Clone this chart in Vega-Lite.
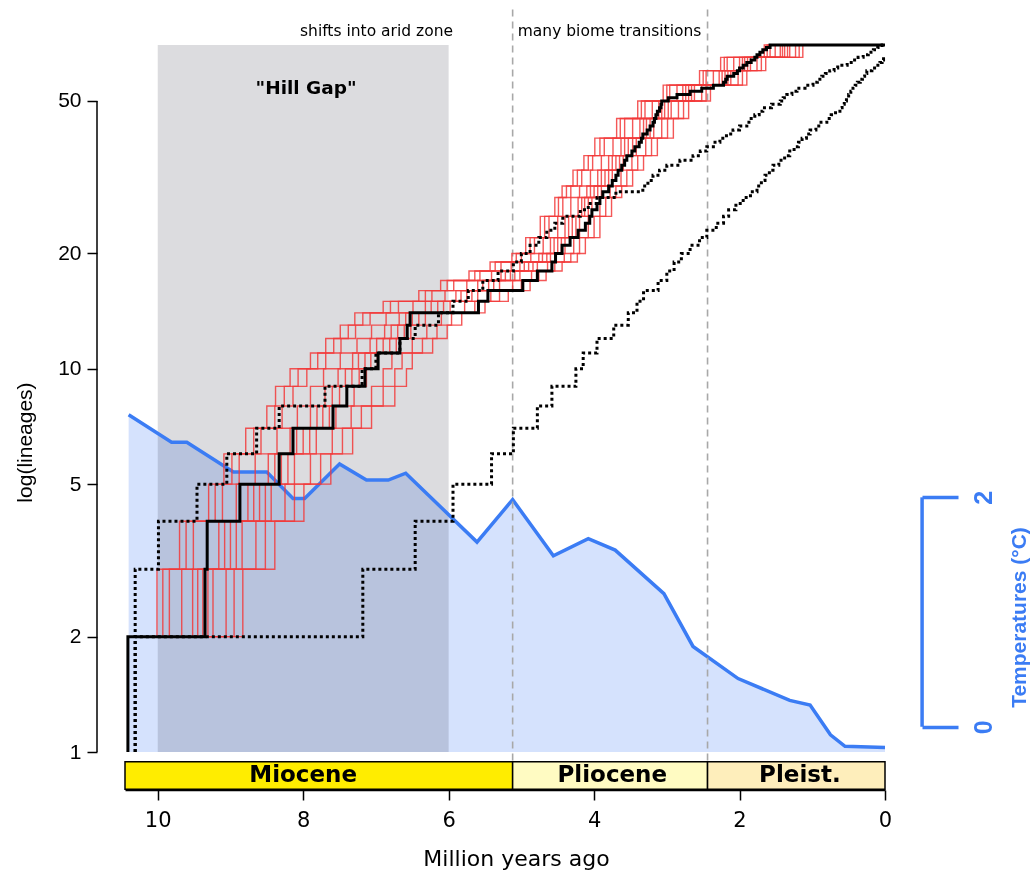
{
"$schema": "https://vega.github.io/schema/vega-lite/v6.json",
"width": 760, "height": 707, "autosize": "none",
"padding": {"left": 125, "top": 45, "right": 149, "bottom": 119},
"background": "white",
"config": {"view": {"stroke": null}, "axis": {"grid": false}},
"datasets": {
"gap": [{"t": 10, "t2": 6}],
"temp": [{"t":10.40,"T":2.72},{"t":9.81,"T":2.48},{"t":9.60,"T":2.48},{"t":8.96,"T":2.22},{"t":8.50,"T":2.22},{"t":8.14,"T":1.99},{"t":7.98,"T":1.99},{"t":7.50,"T":2.29},{"t":7.13,"T":2.15},{"t":6.83,"T":2.15},{"t":6.59,"T":2.21},{"t":5.61,"T":1.61},{"t":5.12,"T":1.98},{"t":4.56,"T":1.49},{"t":4.08,"T":1.64},{"t":3.71,"T":1.54},{"t":3.04,"T":1.16},{"t":2.64,"T":0.70},{"t":2.02,"T":0.42},{"t":1.31,"T":0.23},{"t":1.03,"T":0.19},{"t":0.75,"T":-0.07},{"t":0.55,"T":-0.17},{"t":0,"T":-0.18}],
"bracket": [{"t": -0.51, "T": 0, "T2": 2}],
"yline": [{"t": 10.835, "n": 1, "n2": 50}],
"dash": [{"t": 5.12, "n": 0.95, "n2": 87}, {"t": 2.44, "n": 0.95, "n2": 87}],
"epochs": [{"t":10.45,"t2":5.12,"n":0.943,"n2":0.8,"e":"Miocene"},{"t":5.12,"t2":2.44,"n":0.943,"n2":0.8,"e":"Pliocene"},{"t":2.44,"t2":0,"n":0.943,"n2":0.8,"e":"Pleist."}],
"epochLabels": [{"t":8.0,"n":0.871,"e":"Miocene"},{"t":3.75,"n":0.871,"e":"Pliocene"},{"t":1.17,"n":0.871,"e":"Pleist."}],
"black": [{"t":10.41,"n":1},{"t":10.41,"n":2},{"t":9.35,"n":3},{"t":9.32,"n":4},{"t":8.87,"n":5},{"t":8.33,"n":6},{"t":8.14,"n":7},{"t":7.59,"n":8},{"t":7.40,"n":9},{"t":7.15,"n":10},{"t":6.97,"n":11},{"t":6.67,"n":12},{"t":6.57,"n":13},{"t":6.53,"n":14},{"t":5.59,"n":15},{"t":5.46,"n":16},{"t":4.98,"n":17},{"t":4.78,"n":18},{"t":4.58,"n":19},{"t":4.53,"n":20},{"t":4.44,"n":21},{"t":4.33,"n":22},{"t":4.22,"n":23},{"t":4.12,"n":24},{"t":4.06,"n":25},{"t":4.03,"n":26},{"t":3.96,"n":27},{"t":3.92,"n":28},{"t":3.88,"n":29},{"t":3.80,"n":30},{"t":3.75,"n":31},{"t":3.70,"n":32},{"t":3.67,"n":33},{"t":3.62,"n":34},{"t":3.58,"n":35},{"t":3.55,"n":36},{"t":3.48,"n":37},{"t":3.44,"n":38},{"t":3.38,"n":39},{"t":3.35,"n":40},{"t":3.33,"n":41},{"t":3.27,"n":42},{"t":3.23,"n":43},{"t":3.19,"n":44},{"t":3.17,"n":45},{"t":3.15,"n":46},{"t":3.13,"n":47},{"t":3.10,"n":48},{"t":3.08,"n":49},{"t":3.07,"n":50},{"t":2.98,"n":51},{"t":2.86,"n":52},{"t":2.68,"n":53},{"t":2.52,"n":54},{"t":2.36,"n":55},{"t":2.22,"n":56},{"t":2.19,"n":57},{"t":2.17,"n":58},{"t":2.08,"n":59},{"t":2.03,"n":60},{"t":2.00,"n":61},{"t":1.95,"n":62},{"t":1.90,"n":63},{"t":1.84,"n":64},{"t":1.79,"n":65},{"t":1.76,"n":66},{"t":1.72,"n":67},{"t":1.68,"n":68},{"t":1.63,"n":69},{"t":1.58,"n":70},{"t":0,"n":70}],
"dotted": [
{"s":"hi","t":10.31,"n":1},{"s":"hi","t":10.31,"n":3},{"s":"hi","t":9.99,"n":4},{"s":"hi","t":9.46,"n":5},{"s":"hi","t":9.05,"n":6},{"s":"hi","t":8.64,"n":7},{"s":"hi","t":8.33,"n":8},{"s":"hi","t":7.70,"n":9},{"s":"hi","t":7.19,"n":10},{"s":"hi","t":7.00,"n":11},{"s":"hi","t":6.67,"n":12},{"s":"hi","t":6.46,"n":13},{"s":"hi","t":6.14,"n":14},{"s":"hi","t":5.94,"n":15},{"s":"hi","t":5.73,"n":16},{"s":"hi","t":5.53,"n":17},{"s":"hi","t":5.32,"n":18},{"s":"hi","t":5.11,"n":19},{"s":"hi","t":5.00,"n":20},{"s":"hi","t":4.88,"n":21},{"s":"hi","t":4.76,"n":22},{"s":"hi","t":4.65,"n":23},{"s":"hi","t":4.54,"n":24},{"s":"hi","t":4.43,"n":25},{"s":"hi","t":4.19,"n":26},{"s":"hi","t":4.08,"n":27},{"s":"hi","t":3.96,"n":28},{"s":"hi","t":3.70,"n":29},{"s":"hi","t":3.33,"n":30},{"s":"hi","t":3.26,"n":31},{"s":"hi","t":3.19,"n":32},{"s":"hi","t":3.10,"n":33},{"s":"hi","t":3.00,"n":34},{"s":"hi","t":2.82,"n":35},{"s":"hi","t":2.64,"n":36},{"s":"hi","t":2.54,"n":37},{"s":"hi","t":2.45,"n":38},{"s":"hi","t":2.36,"n":39},{"s":"hi","t":2.27,"n":40},{"s":"hi","t":2.18,"n":41},{"s":"hi","t":2.09,"n":42},{"s":"hi","t":2.00,"n":43},{"s":"hi","t":1.90,"n":44},{"s":"hi","t":1.84,"n":45},{"s":"hi","t":1.79,"n":46},{"s":"hi","t":1.73,"n":47},{"s":"hi","t":1.68,"n":48},{"s":"hi","t":1.56,"n":49},{"s":"hi","t":1.44,"n":50},{"s":"hi","t":1.40,"n":51},{"s":"hi","t":1.35,"n":52},{"s":"hi","t":1.28,"n":53},{"s":"hi","t":1.21,"n":54},{"s":"hi","t":1.10,"n":55},{"s":"hi","t":0.99,"n":56},{"s":"hi","t":0.93,"n":57},{"s":"hi","t":0.87,"n":58},{"s":"hi","t":0.82,"n":59},{"s":"hi","t":0.76,"n":60},{"s":"hi","t":0.70,"n":61},{"s":"hi","t":0.65,"n":62},{"s":"hi","t":0.52,"n":63},{"s":"hi","t":0.44,"n":64},{"s":"hi","t":0.37,"n":65},{"s":"hi","t":0.30,"n":66},{"s":"hi","t":0.23,"n":67},{"s":"hi","t":0.16,"n":68},{"s":"hi","t":0.10,"n":69},{"s":"hi","t":0.04,"n":70},{"s":"hi","t":0,"n":70},
{"s":"lo","t":10.31,"n":1},{"s":"lo","t":10.31,"n":2},{"s":"lo","t":7.18,"n":3},{"s":"lo","t":6.46,"n":4},{"s":"lo","t":5.94,"n":5},{"s":"lo","t":5.41,"n":6},{"s":"lo","t":5.11,"n":7},{"s":"lo","t":4.78,"n":8},{"s":"lo","t":4.58,"n":9},{"s":"lo","t":4.25,"n":10},{"s":"lo","t":4.15,"n":11},{"s":"lo","t":3.96,"n":12},{"s":"lo","t":3.73,"n":13},{"s":"lo","t":3.53,"n":14},{"s":"lo","t":3.41,"n":15},{"s":"lo","t":3.32,"n":16},{"s":"lo","t":3.12,"n":17},{"s":"lo","t":3.00,"n":18},{"s":"lo","t":2.90,"n":19},{"s":"lo","t":2.80,"n":20},{"s":"lo","t":2.68,"n":21},{"s":"lo","t":2.55,"n":22},{"s":"lo","t":2.45,"n":23},{"s":"lo","t":2.32,"n":24},{"s":"lo","t":2.22,"n":25},{"s":"lo","t":2.15,"n":26},{"s":"lo","t":2.05,"n":27},{"s":"lo","t":1.95,"n":28},{"s":"lo","t":1.85,"n":29},{"s":"lo","t":1.76,"n":30},{"s":"lo","t":1.70,"n":31},{"s":"lo","t":1.65,"n":32},{"s":"lo","t":1.59,"n":33},{"s":"lo","t":1.54,"n":34},{"s":"lo","t":1.46,"n":35},{"s":"lo","t":1.38,"n":36},{"s":"lo","t":1.31,"n":37},{"s":"lo","t":1.25,"n":38},{"s":"lo","t":1.19,"n":39},{"s":"lo","t":1.14,"n":40},{"s":"lo","t":1.08,"n":41},{"s":"lo","t":1.03,"n":42},{"s":"lo","t":0.95,"n":43},{"s":"lo","t":0.88,"n":44},{"s":"lo","t":0.80,"n":45},{"s":"lo","t":0.74,"n":46},{"s":"lo","t":0.68,"n":47},{"s":"lo","t":0.62,"n":48},{"s":"lo","t":0.59,"n":49},{"s":"lo","t":0.56,"n":50},{"s":"lo","t":0.53,"n":51},{"s":"lo","t":0.50,"n":52},{"s":"lo","t":0.47,"n":53},{"s":"lo","t":0.44,"n":54},{"s":"lo","t":0.41,"n":55},{"s":"lo","t":0.38,"n":56},{"s":"lo","t":0.34,"n":57},{"s":"lo","t":0.31,"n":58},{"s":"lo","t":0.28,"n":59},{"s":"lo","t":0.25,"n":60},{"s":"lo","t":0.18,"n":61},{"s":"lo","t":0.12,"n":62},{"s":"lo","t":0.07,"n":63},{"s":"lo","t":0.04,"n":64},{"s":"lo","t":0.02,"n":65},{"s":"lo","t":0,"n":65}],
"red": [
{"s":1,"t":10.2,"n":2},{"s":1,"t":10.01,"n":3},{"s":1,"t":9.70,"n":4},{"s":1,"t":9.30,"n":5},{"s":1,"t":9.09,"n":6},{"s":1,"t":8.79,"n":7},{"s":1,"t":8.50,"n":8},{"s":1,"t":8.38,"n":9},{"s":1,"t":8.18,"n":10},{"s":1,"t":7.90,"n":11},{"s":1,"t":7.69,"n":12},{"s":1,"t":7.49,"n":13},{"s":1,"t":7.29,"n":14},{"s":1,"t":6.90,"n":15},{"s":1,"t":6.41,"n":16},{"s":1,"t":6.11,"n":17},{"s":1,"t":5.72,"n":18},{"s":1,"t":5.43,"n":19},{"s":1,"t":5.13,"n":20},{"s":1,"t":4.94,"n":22},{"s":1,"t":4.74,"n":25},{"s":1,"t":4.54,"n":28},{"s":1,"t":4.44,"n":30},{"s":1,"t":4.29,"n":33},{"s":1,"t":4.14,"n":36},{"s":1,"t":3.99,"n":40},{"s":1,"t":3.69,"n":45},{"s":1,"t":3.40,"n":50},{"s":1,"t":3.05,"n":55},{"s":1,"t":2.55,"n":60},{"s":1,"t":2.26,"n":65},{"s":1,"t":1.66,"n":70},{"s":1,"t":0,"n":70},
{"s":2,"t":10.2,"n":2},{"s":2,"t":9.84,"n":3},{"s":2,"t":9.51,"n":4},{"s":2,"t":9.11,"n":5},{"s":2,"t":8.88,"n":6},{"s":2,"t":8.58,"n":7},{"s":2,"t":8.29,"n":8},{"s":2,"t":8.14,"n":9},{"s":2,"t":7.95,"n":10},{"s":2,"t":7.69,"n":11},{"s":2,"t":7.48,"n":12},{"s":2,"t":7.28,"n":13},{"s":2,"t":7.08,"n":14},{"s":2,"t":6.69,"n":15},{"s":2,"t":6.23,"n":16},{"s":2,"t":5.93,"n":17},{"s":2,"t":5.57,"n":18},{"s":2,"t":5.28,"n":19},{"s":2,"t":5.00,"n":20},{"s":2,"t":4.82,"n":22},{"s":2,"t":4.62,"n":25},{"s":2,"t":4.43,"n":28},{"s":2,"t":4.32,"n":30},{"s":2,"t":4.17,"n":33},{"s":2,"t":4.02,"n":36},{"s":2,"t":3.86,"n":40},{"s":2,"t":3.58,"n":45},{"s":2,"t":3.30,"n":50},{"s":2,"t":2.96,"n":55},{"s":2,"t":2.46,"n":60},{"s":2,"t":2.17,"n":65},{"s":2,"t":1.58,"n":70},{"s":2,"t":0,"n":70},
{"s":3,"t":10.2,"n":2},{"s":3,"t":9.67,"n":3},{"s":3,"t":9.32,"n":4},{"s":3,"t":8.92,"n":5},{"s":3,"t":8.66,"n":6},{"s":3,"t":8.36,"n":7},{"s":3,"t":8.08,"n":8},{"s":3,"t":7.90,"n":9},{"s":3,"t":7.72,"n":10},{"s":3,"t":7.49,"n":11},{"s":3,"t":7.26,"n":12},{"s":3,"t":7.06,"n":13},{"s":3,"t":6.86,"n":14},{"s":3,"t":6.49,"n":15},{"s":3,"t":6.05,"n":16},{"s":3,"t":5.75,"n":17},{"s":3,"t":5.41,"n":18},{"s":3,"t":5.14,"n":19},{"s":3,"t":4.87,"n":20},{"s":3,"t":4.70,"n":22},{"s":3,"t":4.50,"n":25},{"s":3,"t":4.32,"n":28},{"s":3,"t":4.20,"n":30},{"s":3,"t":4.05,"n":33},{"s":3,"t":3.90,"n":36},{"s":3,"t":3.74,"n":40},{"s":3,"t":3.47,"n":45},{"s":3,"t":3.20,"n":50},{"s":3,"t":2.86,"n":55},{"s":3,"t":2.36,"n":60},{"s":3,"t":2.08,"n":65},{"s":3,"t":1.51,"n":70},{"s":3,"t":0,"n":70},
{"s":4,"t":10.2,"n":2},{"s":4,"t":9.52,"n":3},{"s":4,"t":9.16,"n":4},{"s":4,"t":8.76,"n":5},{"s":4,"t":8.48,"n":6},{"s":4,"t":8.18,"n":7},{"s":4,"t":7.90,"n":8},{"s":4,"t":7.70,"n":9},{"s":4,"t":7.52,"n":10},{"s":4,"t":7.32,"n":11},{"s":4,"t":7.08,"n":12},{"s":4,"t":6.88,"n":13},{"s":4,"t":6.68,"n":14},{"s":4,"t":6.32,"n":15},{"s":4,"t":5.90,"n":16},{"s":4,"t":5.60,"n":17},{"s":4,"t":5.28,"n":18},{"s":4,"t":5.02,"n":19},{"s":4,"t":4.76,"n":20},{"s":4,"t":4.60,"n":22},{"s":4,"t":4.40,"n":25},{"s":4,"t":4.22,"n":28},{"s":4,"t":4.10,"n":30},{"s":4,"t":3.95,"n":33},{"s":4,"t":3.80,"n":36},{"s":4,"t":3.63,"n":40},{"s":4,"t":3.37,"n":45},{"s":4,"t":3.11,"n":50},{"s":4,"t":2.78,"n":55},{"s":4,"t":2.28,"n":60},{"s":4,"t":2.00,"n":65},{"s":4,"t":1.44,"n":70},{"s":4,"t":0,"n":70},
{"s":5,"t":10.2,"n":2},{"s":5,"t":9.38,"n":3},{"s":5,"t":9.00,"n":4},{"s":5,"t":8.60,"n":5},{"s":5,"t":8.30,"n":6},{"s":5,"t":8.00,"n":7},{"s":5,"t":7.73,"n":8},{"s":5,"t":7.50,"n":9},{"s":5,"t":7.33,"n":10},{"s":5,"t":7.15,"n":11},{"s":5,"t":6.90,"n":12},{"s":5,"t":6.70,"n":13},{"s":5,"t":6.50,"n":14},{"s":5,"t":6.15,"n":15},{"s":5,"t":5.75,"n":16},{"s":5,"t":5.45,"n":17},{"s":5,"t":5.15,"n":18},{"s":5,"t":4.90,"n":19},{"s":5,"t":4.65,"n":20},{"s":5,"t":4.50,"n":22},{"s":5,"t":4.30,"n":25},{"s":5,"t":4.13,"n":28},{"s":5,"t":4.00,"n":30},{"s":5,"t":3.85,"n":33},{"s":5,"t":3.70,"n":36},{"s":5,"t":3.53,"n":40},{"s":5,"t":3.28,"n":45},{"s":5,"t":3.03,"n":50},{"s":5,"t":2.70,"n":55},{"s":5,"t":2.20,"n":60},{"s":5,"t":1.93,"n":65},{"s":5,"t":1.38,"n":70},{"s":5,"t":0,"n":70},
{"s":6,"t":10.2,"n":2},{"s":6,"t":9.24,"n":3},{"s":6,"t":8.84,"n":4},{"s":6,"t":8.44,"n":5},{"s":6,"t":8.12,"n":6},{"s":6,"t":7.82,"n":7},{"s":6,"t":7.55,"n":8},{"s":6,"t":7.30,"n":9},{"s":6,"t":7.13,"n":10},{"s":6,"t":6.98,"n":11},{"s":6,"t":6.72,"n":12},{"s":6,"t":6.52,"n":13},{"s":6,"t":6.32,"n":14},{"s":6,"t":5.98,"n":15},{"s":6,"t":5.60,"n":16},{"s":6,"t":5.30,"n":17},{"s":6,"t":5.02,"n":18},{"s":6,"t":4.78,"n":19},{"s":6,"t":4.54,"n":20},{"s":6,"t":4.40,"n":22},{"s":6,"t":4.20,"n":25},{"s":6,"t":4.03,"n":28},{"s":6,"t":3.90,"n":30},{"s":6,"t":3.75,"n":33},{"s":6,"t":3.60,"n":36},{"s":6,"t":3.42,"n":40},{"s":6,"t":3.18,"n":45},{"s":6,"t":2.94,"n":50},{"s":6,"t":2.62,"n":55},{"s":6,"t":2.12,"n":60},{"s":6,"t":1.85,"n":65},{"s":6,"t":1.31,"n":70},{"s":6,"t":0,"n":70},
{"s":7,"t":10.2,"n":2},{"s":7,"t":9.06,"n":3},{"s":7,"t":8.65,"n":4},{"s":7,"t":8.25,"n":5},{"s":7,"t":7.90,"n":6},{"s":7,"t":7.60,"n":7},{"s":7,"t":7.34,"n":8},{"s":7,"t":7.06,"n":9},{"s":7,"t":6.90,"n":10},{"s":7,"t":6.78,"n":11},{"s":7,"t":6.50,"n":12},{"s":7,"t":6.30,"n":13},{"s":7,"t":6.10,"n":14},{"s":7,"t":5.78,"n":15},{"s":7,"t":5.42,"n":16},{"s":7,"t":5.12,"n":17},{"s":7,"t":4.86,"n":18},{"s":7,"t":4.64,"n":19},{"s":7,"t":4.41,"n":20},{"s":7,"t":4.28,"n":22},{"s":7,"t":4.08,"n":25},{"s":7,"t":3.92,"n":28},{"s":7,"t":3.78,"n":30},{"s":7,"t":3.63,"n":33},{"s":7,"t":3.48,"n":36},{"s":7,"t":3.29,"n":40},{"s":7,"t":3.07,"n":45},{"s":7,"t":2.84,"n":50},{"s":7,"t":2.52,"n":55},{"s":7,"t":2.02,"n":60},{"s":7,"t":1.76,"n":65},{"s":7,"t":1.23,"n":70},{"s":7,"t":0,"n":70},
{"s":8,"t":10.2,"n":2},{"s":8,"t":8.83,"n":3},{"s":8,"t":8.39,"n":4},{"s":8,"t":7.99,"n":5},{"s":8,"t":7.62,"n":6},{"s":8,"t":7.32,"n":7},{"s":8,"t":7.06,"n":8},{"s":8,"t":6.74,"n":9},{"s":8,"t":6.58,"n":10},{"s":8,"t":6.50,"n":11},{"s":8,"t":6.22,"n":12},{"s":8,"t":6.02,"n":13},{"s":8,"t":5.82,"n":14},{"s":8,"t":5.50,"n":15},{"s":8,"t":5.18,"n":16},{"s":8,"t":4.88,"n":17},{"s":8,"t":4.66,"n":18},{"s":8,"t":4.44,"n":19},{"s":8,"t":4.23,"n":20},{"s":8,"t":4.12,"n":22},{"s":8,"t":3.92,"n":25},{"s":8,"t":3.76,"n":28},{"s":8,"t":3.62,"n":30},{"s":8,"t":3.47,"n":33},{"s":8,"t":3.32,"n":36},{"s":8,"t":3.13,"n":40},{"s":8,"t":2.91,"n":45},{"s":8,"t":2.70,"n":50},{"s":8,"t":2.40,"n":55},{"s":8,"t":1.90,"n":60},{"s":8,"t":1.64,"n":65},{"s":8,"t":1.13,"n":70},{"s":8,"t":0,"n":70},
{"s":9,"t":10.2,"n":2},{"s":9,"t":9.93,"n":3},{"s":9,"t":9.61,"n":4},{"s":9,"t":9.21,"n":5},{"s":9,"t":8.98,"n":6},{"s":9,"t":8.68,"n":7},{"s":9,"t":8.39,"n":8},{"s":9,"t":8.26,"n":9},{"s":9,"t":8.07,"n":10},{"s":9,"t":7.80,"n":11},{"s":9,"t":7.58,"n":12},{"s":9,"t":7.38,"n":13},{"s":9,"t":7.18,"n":14},{"s":9,"t":6.80,"n":15},{"s":9,"t":6.32,"n":16},{"s":9,"t":6.02,"n":17},{"s":9,"t":5.64,"n":18},{"s":9,"t":5.36,"n":19},{"s":9,"t":5.07,"n":20},{"s":9,"t":4.88,"n":22},{"s":9,"t":4.68,"n":25},{"s":9,"t":4.49,"n":28},{"s":9,"t":4.38,"n":30},{"s":9,"t":4.23,"n":33},{"s":9,"t":4.08,"n":36},{"s":9,"t":3.92,"n":40},{"s":9,"t":3.64,"n":45},{"s":9,"t":3.35,"n":50},{"s":9,"t":3.00,"n":55},{"s":9,"t":2.50,"n":60},{"s":9,"t":2.21,"n":65},{"s":9,"t":1.62,"n":70},{"s":9,"t":0,"n":70},
{"s":10,"t":10.2,"n":2},{"s":10,"t":9.45,"n":3},{"s":10,"t":9.08,"n":4},{"s":10,"t":8.68,"n":5},{"s":10,"t":8.39,"n":6},{"s":10,"t":8.09,"n":7},{"s":10,"t":7.81,"n":8},{"s":10,"t":7.60,"n":9},{"s":10,"t":7.42,"n":10},{"s":10,"t":7.24,"n":11},{"s":10,"t":6.99,"n":12},{"s":10,"t":6.79,"n":13},{"s":10,"t":6.59,"n":14},{"s":10,"t":6.24,"n":15},{"s":10,"t":5.83,"n":16},{"s":10,"t":5.53,"n":17},{"s":10,"t":5.22,"n":18},{"s":10,"t":4.96,"n":19},{"s":10,"t":4.71,"n":20},{"s":10,"t":4.55,"n":22},{"s":10,"t":4.35,"n":25},{"s":10,"t":4.17,"n":28},{"s":10,"t":4.05,"n":30},{"s":10,"t":3.90,"n":33},{"s":10,"t":3.75,"n":36},{"s":10,"t":3.58,"n":40},{"s":10,"t":3.32,"n":45},{"s":10,"t":3.07,"n":50},{"s":10,"t":2.74,"n":55},{"s":10,"t":2.24,"n":60},{"s":10,"t":1.96,"n":65},{"s":10,"t":1.41,"n":70},{"s":10,"t":0,"n":70},
{"s":11,"t":10.2,"n":2},{"s":11,"t":9.31,"n":3},{"s":11,"t":8.92,"n":4},{"s":11,"t":8.52,"n":5},{"s":11,"t":8.21,"n":6},{"s":11,"t":7.91,"n":7},{"s":11,"t":7.64,"n":8},{"s":11,"t":7.40,"n":9},{"s":11,"t":7.23,"n":10},{"s":11,"t":7.07,"n":11},{"s":11,"t":6.81,"n":12},{"s":11,"t":6.61,"n":13},{"s":11,"t":6.41,"n":14},{"s":11,"t":6.07,"n":15},{"s":11,"t":5.68,"n":16},{"s":11,"t":5.38,"n":17},{"s":11,"t":5.09,"n":18},{"s":11,"t":4.84,"n":19},{"s":11,"t":4.60,"n":20},{"s":11,"t":4.45,"n":22},{"s":11,"t":4.25,"n":25},{"s":11,"t":4.08,"n":28},{"s":11,"t":3.95,"n":30},{"s":11,"t":3.80,"n":33},{"s":11,"t":3.65,"n":36},{"s":11,"t":3.47,"n":40},{"s":11,"t":3.23,"n":45},{"s":11,"t":2.98,"n":50},{"s":11,"t":2.66,"n":55},{"s":11,"t":2.16,"n":60},{"s":11,"t":1.89,"n":65},{"s":11,"t":1.34,"n":70},{"s":11,"t":0,"n":70},
{"s":12,"t":10.2,"n":2},{"s":12,"t":8.95,"n":3},{"s":12,"t":8.52,"n":4},{"s":12,"t":8.12,"n":5},{"s":12,"t":7.76,"n":6},{"s":12,"t":7.46,"n":7},{"s":12,"t":7.20,"n":8},{"s":12,"t":6.90,"n":9},{"s":12,"t":6.74,"n":10},{"s":12,"t":6.64,"n":11},{"s":12,"t":6.36,"n":12},{"s":12,"t":6.16,"n":13},{"s":12,"t":5.96,"n":14},{"s":12,"t":5.64,"n":15},{"s":12,"t":5.30,"n":16},{"s":12,"t":5.00,"n":17},{"s":12,"t":4.76,"n":18},{"s":12,"t":4.54,"n":19},{"s":12,"t":4.32,"n":20},{"s":12,"t":4.20,"n":22},{"s":12,"t":4.00,"n":25},{"s":12,"t":3.84,"n":28},{"s":12,"t":3.70,"n":30},{"s":12,"t":3.55,"n":33},{"s":12,"t":3.40,"n":36},{"s":12,"t":3.21,"n":40},{"s":12,"t":2.99,"n":45},{"s":12,"t":2.77,"n":50},{"s":12,"t":2.46,"n":55},{"s":12,"t":1.96,"n":60},{"s":12,"t":1.70,"n":65},{"s":12,"t":1.18,"n":70},{"s":12,"t":0,"n":70}]
},
"encoding": {
  "x": {"field": "t", "type": "quantitative",
    "scale": {"domain": [0, 10.45], "reverse": true, "nice": false, "zero": false},
    "axis": {"values": [0, 2, 4, 6, 8, 10], "offset": 38, "title": "Million years ago",
      "titleFont": "DejaVu Sans", "titleFontSize": 22, "titleFontWeight": "normal", "titleColor": "black", "titlePadding": 18, "titleX": 391,
      "labelFont": "DejaVu Sans", "labelFontSize": 21, "labelColor": "black", "labelPadding": 9, "labelFlush": false,
      "tickSize": 10, "tickColor": "black", "tickWidth": 1.5, "domainColor": "black", "domainWidth": 1.5, "grid": false}}
},
"layer": [
  {"data": {"name": "gap"}, "mark": {"type": "rect", "color": "#dcdcdf"}, "encoding": {"x2": {"field": "t2"}}},
  {"data": {"name": "temp"},
   "encoding": {"y": {"field": "T", "type": "quantitative",
      "scale": {"domain": [-0.22, 5.943], "nice": false, "zero": false},
      "axis": {"orient": "right", "offset": 37, "values": [0, 2], "domain": false,
        "tickSize": 36, "tickWidth": 3.5, "tickColor": "#3b7cf4",
        "labelColor": "#3b7cf4", "labelFont": "Liberation Sans", "labelFontSize": 25, "labelFontWeight": "bold",
        "labelAngle": -90, "labelAlign": "center", "labelBaseline": "top", "labelPadding": 13,
        "title": "Temperatures (°C)", "titleColor": "#3b7cf4", "titleFont": "Liberation Sans", "titleFontSize": 21, "titleFontWeight": "bold",
        "titleAngle": -90, "titleBaseline": "top", "titlePadding": 12, "titleY": 572, "titleAlign": "center", "grid": false}}},
   "layer": [
     {"mark": {"type": "area", "color": "#d5e2fd", "blend": "multiply"}, "encoding": {"y2": {"datum": -0.22}}},
     {"mark": {"type": "line", "color": "#3b7cf4", "strokeWidth": 3.5}},
     {"data": {"name": "bracket"}, "mark": {"type": "rule", "color": "#3b7cf4", "strokeWidth": 3.5}, "encoding": {"y2": {"field": "T2"}}}
   ]},
  {"encoding": {"y": {"field": "n", "type": "quantitative",
      "scale": {"type": "log", "domain": [1, 70], "nice": false},
      "axis": {"values": [1, 2, 5, 10, 20, 50], "format": "d", "offset": 28, "domain": false,
        "tickSize": 10, "tickColor": "black", "tickWidth": 1.5,
        "labelFont": "Liberation Sans", "labelFontSize": 21, "labelColor": "black", "labelPadding": 6,
        "title": "log(lineages)", "titleFont": "Liberation Sans", "titleFontSize": 21, "titleFontWeight": "normal", "titleColor": "black",
        "titlePadding": 22, "titleY": 397, "grid": false}}},
   "layer": [
     {"data": {"name": "dash"}, "mark": {"type": "rule", "color": "#a8a8a8", "strokeWidth": 1.6, "strokeDash": [7, 5]}, "encoding": {"y2": {"field": "n2"}}},
     {"data": {"name": "red"}, "mark": {"type": "line", "interpolate": "step-after", "color": "#f23a3a", "strokeWidth": 1.4, "opacity": 0.85},
      "encoding": {"detail": {"field": "s"}, "order": {"value": null}}},
     {"data": {"name": "dotted"}, "mark": {"type": "line", "interpolate": "step-after", "color": "black", "strokeWidth": 3, "strokeDash": [3, 3]},
      "encoding": {"detail": {"field": "s"}, "order": {"value": null}}},
     {"data": {"name": "black"}, "mark": {"type": "line", "interpolate": "step-after", "color": "black", "strokeWidth": 3},
      "encoding": {"order": {"value": null}}},
     {"data": {"name": "epochs"}, "mark": {"type": "rect", "stroke": "black", "strokeWidth": 1.5},
      "encoding": {"x2": {"field": "t2"}, "y2": {"field": "n2"},
        "color": {"field": "e", "type": "nominal", "scale": {"domain": ["Miocene", "Pliocene", "Pleist."], "range": ["#ffed00", "#fffbc2", "#feeebb"]}, "legend": null}}},
     {"data": {"name": "epochLabels"}, "mark": {"type": "text", "font": "DejaVu Sans", "fontWeight": "bold", "fontSize": 23, "color": "black", "align": "center", "baseline": "middle"},
      "encoding": {"text": {"field": "e"}}},
     {"data": {"values": [{"t": 5.94, "n": 76, "label": "shifts into arid zone"}]}, "mark": {"type": "text", "font": "DejaVu Sans", "fontSize": 15.5, "color": "black", "align": "right", "baseline": "middle"},
      "encoding": {"text": {"field": "label"}}},
     {"data": {"values": [{"t": 5.05, "n": 76, "label": "many biome transitions"}]}, "mark": {"type": "text", "font": "DejaVu Sans", "fontSize": 15.5, "color": "black", "align": "left", "baseline": "middle"},
      "encoding": {"text": {"field": "label"}}},
     {"data": {"values": [{"t": 7.96, "n": 54, "label": "\"Hill Gap\""}]}, "mark": {"type": "text", "font": "DejaVu Sans", "fontSize": 18.5, "fontWeight": "bold", "color": "black", "align": "center", "baseline": "middle"},
      "encoding": {"text": {"field": "label"}}},
     {"data": {"name": "yline"}, "mark": {"type": "rule", "color": "black", "strokeWidth": 1.5}, "encoding": {"y2": {"field": "n2"}}}
   ]}
],
"resolve": {"scale": {"y": "independent"}, "axis": {"y": "independent"}}
}
